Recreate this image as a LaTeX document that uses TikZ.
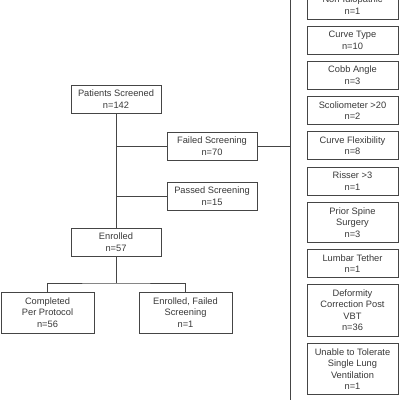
\documentclass[tikz,border=0pt]{standalone}
\usepackage{fontspec}
\setmainfont{Liberation Sans}
\usepackage{tikz}
\usetikzlibrary{positioning}

\definecolor{txtgray}{HTML}{383838}
\definecolor{lngray}{HTML}{454545}

\begin{document}
\begin{tikzpicture}[
  x=1pt, y=-1pt,
  font=\fontsize{9.3}{11.5}\selectfont,
  bx/.style={draw=lngray, text=txtgray, line width=0.8pt, align=center,
    minimum width=90pt, minimum height=28pt, inner sep=2pt, outer sep=0pt},
  bxr/.style={bx, minimum width=91pt},
  bxr3/.style={bxr, minimum height=40pt},
  bxr4/.style={bxr, minimum height=51.5pt},
  bxl/.style={bx, minimum width=93pt, minimum height=41pt},
  ln/.style={draw=lngray, line width=0.8pt},
  node distance=7.2pt
]
\clip (0,0) rectangle (400,400);
% left flow
\node[bx] (ps) at (116,99) {Patients Screened\\n=142};
\node[bx] (fs) at (212,146) {Failed Screening\\n=70};
\node[bx] (pas) at (212,196) {Passed Screening\\n=15};
\node[bx] (enr) at (116,242) {Enrolled\\n=57};
\node[bxl] (cpp) at (47.5,312.5) {Completed\\Per Protocol\\n=56};
\node[bxl] (efs) at (185.5,312.5) {Enrolled, Failed\\Screening\\n=1};
% reasons for failed screening
\node[bxr] (nid) at (352.5,5) {Non-Idiopathic\\n=1};
\node[bxr, below=of nid] (ctype) {Curve Type\\n=10};
\node[bxr, below=of ctype] (cobb) {Cobb Angle\\n=3};
\node[bxr, below=of cobb] (scol) {Scoliometer >20\\n=2};
\node[bxr, below=of scol] (cflex) {Curve Flexibility\\n=8};
\node[bxr, below=of cflex] (ris) {Risser >3\\n=1};
\node[bxr3, below=of ris] (pss) {Prior Spine\\Surgery\\n=3};
\node[bxr, below=of pss] (lt) {Lumbar Tether\\n=1};
\node[bxr4, below=of lt] (dcp) {Deformity\\Correction Post\\VBT\\n=36};
\node[bxr4, below=of dcp] (utt) {Unable to Tolerate\\Single Lung\\Ventilation\\n=1};
% connectors
\coordinate (bartop) at (290.5,-5);
\coordinate (barbot) at (290.5,405);
\coordinate (split) at (116,283);
\draw[ln] (ps) -- (enr);
\draw[ln] (ps.south |- fs.west) -- (fs.west);
\draw[ln] (ps.south |- pas.west) -- (pas.west);
\draw[ln] (fs.east) -- (fs.east -| bartop);
\draw[ln] (bartop) -- (barbot);
\draw[ln] (enr.south) -- (split);
\draw[ln] (cpp.north) |- (split) -| (efs.north);
\end{tikzpicture}
\end{document}
